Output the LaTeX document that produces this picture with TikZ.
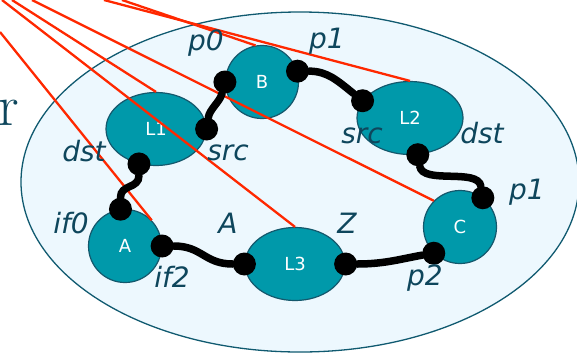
\documentclass[tikz,border=0pt]{standalone}
\usepackage{fontspec}
\setsansfont{DejaVu Sans}
\usetikzlibrary{shapes.geometric}

\definecolor{sky}{RGB}{237,248,254}
\definecolor{rim}{RGB}{16,90,112}
\definecolor{boxfill}{RGB}{0,153,170}
\definecolor{boxline}{RGB}{20,88,108}
\definecolor{ink}{RGB}{14,70,92}
\definecolor{wirered}{RGB}{255,40,0}

\tikzset{
  router/.style={ellipse, draw=boxline, fill=boxfill, line width=1.2pt, text=white,
    font=\sffamily\fontsize{18}{18}\selectfont, minimum width=100pt, minimum height=73pt},
  host/.style={circle, draw=boxline, fill=boxfill, line width=1.2pt, text=white,
    font=\sffamily\fontsize{18}{18}\selectfont, minimum size=73pt},
  port/.style={circle, fill=black, inner sep=0pt, minimum size=23pt},
  link/.style={line width=7.5pt, line cap=round},
  wire/.style={draw=wirered, line width=2.3pt},
  tag/.style={text=ink, font=\sffamily\itshape\fontsize{28}{28}\selectfont, anchor=base, inner sep=0pt}
}

\begin{document}
\begin{tikzpicture}[x=1pt,y=-1pt]
\useasboundingbox (0,0) rectangle (577,354);

\node[ellipse, draw=rim, fill=sky, line width=1.3pt, minimum width=558pt, minimum height=340pt] (net) at (300,182) {};
\node[anchor=base east, inner sep=0pt, text=ink, font=\fontsize{58}{58}\selectfont] (cut) at (19,125) {r};

% routers and hosts
\node[router] (L1) at (156,129) {L1};
\node[router, minimum width=106pt] (L2) at (410,118) {L2};
\node[router] (L3) at (295,264) {L3};
\node[host] (B) at (262,82) {B};
\node[host] (C) at (460,227) {C};
\node[host] (A) at (125,246) {A};

% red lines
\coordinate (w1) at (0,32);
\coordinate (w2) at (2,0);
\coordinate (w3) at (12,0);
\coordinate (w4) at (32,0);
\coordinate (w5) at (122,0);
\coordinate (w6) at (104,0);
\draw[wire] (w1) -- (A.44);
\draw[wire] (w2) -- (L3.north);
\draw[wire] (w3) -- (L1.north);
\draw[wire] (w4) -- (C.135);
\draw[wire] (w5) -- (B.100);
\draw[wire] (w6) -- (L2.north);

% ports
\node[port] (l1src) at (L1.east) {};
\node[port] (l1dst) at (L1.244) {};
\node[port] (bw) at (B.west) {};
\node[port] (be) at (B.17) {};
\node[port] (l2src) at (L2.160) {};
\node[port] (l2dst) at (L2.282) {};
\node[port] (cp1) at (C.52) {};
\node[port] (cp2) at (C.225) {};
\node[port] (l3z) at (L3.east) {};
\node[port] (l3a) at (L3.west) {};
\node[port] (aif2) at (A.east) {};
\node[port] (aif0) at (A.97) {};

% links
\draw[link] (l1src) .. controls +(3,-20) and +(-5,20) .. (bw);
\draw[link] (be) .. controls +(30,0) and +(-25,-20) .. (l2src);
\draw[link] (l2dst) .. controls +(5,30) and +(-5,-30) .. (cp1);
\draw[link] (l3z) .. controls +(40,0) and +(-30,5) .. (cp2);
\draw[link] (aif2) .. controls +(40,0) and +(-40,0) .. (l3a);
\draw[link] (aif0) .. controls +(0,-25) and +(0,25) .. (l1dst);

% labels
\node[tag] (tp0) at (206,50) {p0};
\node[tag] (tp1) at (327,48) {p1};
\node[tag] (tsrc1) at (228,160) {src};
\node[tag] (tdst1) at (84,161) {dst};
\node[tag] (tsrc2) at (362,143) {src};
\node[tag] (tdst2) at (482,143) {dst};
\node[tag] (tp1c) at (527,199) {p1};
\node[tag] (tp2) at (425,285) {p2};
\node[tag] (tif0) at (71,233) {if0};
\node[tag] (tif2) at (172,287) {if2};
\node[tag] (tA) at (228,233) {A};
\node[tag] (tZ) at (347,233) {Z};

\end{tikzpicture}
\end{document}
